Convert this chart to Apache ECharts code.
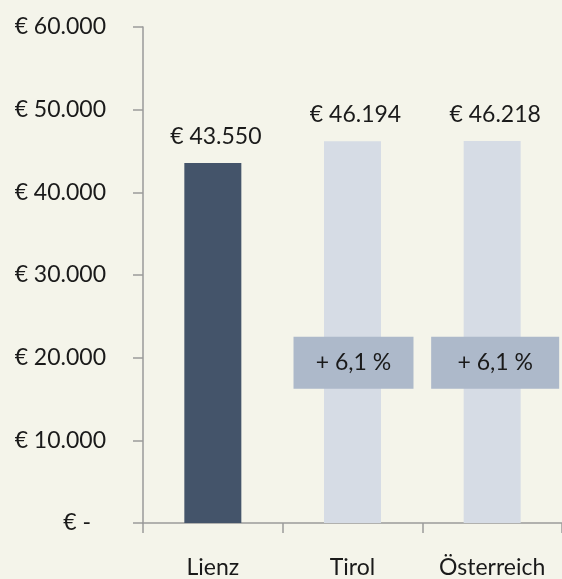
<!DOCTYPE html>
<html>
<head>
<meta charset="utf-8">
<script src="https://cdn.jsdelivr.net/npm/echarts@6/dist/echarts.min.js"></script>
<style>
  html, body { margin: 0; padding: 0; background: #f4f4ea; }
  #chart { width: 562px; height: 579px; }
</style>
</head>
<body>
<div id="chart"></div>
<script>
// Average income per region (EUR)
const regions = ['Lienz', 'Tirol', 'Österreich'];
const incomes = [43550, 46194, 46218];
const barColors = ['#44546a', '#d6dce5', '#d6dce5'];
// Comparison regions shown with their difference to Lienz
const comparedRegions = ['Tirol', 'Österreich'];
const boxLevel = 19400;

const FONT = 'Lato';
const FS = 23;
const AXIS_COLOR = '#9a9a9a';

function euro(v) {
  if (v === 0) return '€ -';
  return '€ ' + String(Math.round(v)).replace(/\B(?=(\d{3})+(?!\d))/g, '.');
}
function diffLabel(name) {
  const v = incomes[regions.indexOf(name)];
  const pct = (v / incomes[0] - 1) * 100;
  return '+ ' + pct.toFixed(1).replace('.', ',') + ' %';
}

const chart = echarts.init(document.getElementById('chart'), null, { renderer: 'canvas' });
chart.setOption({
  backgroundColor: '#f4f4ea',
  animation: false,
  textStyle: { fontFamily: FONT },
  grid: { left: 143, right: -1, top: 27, bottom: 56, containLabel: false },
  xAxis: {
    type: 'category',
    data: regions,
    axisLine: { lineStyle: { color: AXIS_COLOR, width: 1.5 } },
    axisTick: { show: true, length: 10, lineStyle: { color: AXIS_COLOR, width: 1.5 } },
    axisLabel: { color: '#1a1a1a', fontSize: FS, fontFamily: FONT, margin: 33 }
  },
  yAxis: {
    type: 'value',
    min: 0, max: 60000, interval: 10000,
    splitLine: { show: false },
    axisLine: { show: true, lineStyle: { color: AXIS_COLOR, width: 1.5 } },
    axisTick: { show: true, length: 10, lineStyle: { color: AXIS_COLOR, width: 1.5 } },
    axisLabel: {
      color: '#1a1a1a', fontSize: FS, fontFamily: FONT, margin: 37,
      // accounting style: the dash for zero sits left of the digit column
      formatter: v => v === 0 ? '{zero|' + euro(v) + '}' : euro(v),
      rich: { zero: { fontSize: FS, fontFamily: FONT, color: '#1a1a1a', padding: [0, 15, 0, 0] } }
    }
  },
  series: [
    {
      type: 'bar',
      barWidth: 57,
      data: incomes.map((v, i) => ({ value: v, itemStyle: { color: barColors[i] } })),
      label: {
        show: true, position: 'top', distance: 15,
        color: '#1a1a1a', fontSize: FS, fontFamily: FONT,
        offset: [3, 0],
        formatter: p => euro(p.value)
      },
      z: 2
    },
    {
      type: 'scatter',
      symbol: 'rect',
      data: comparedRegions.map((name, i) => ({
        value: [name, boxLevel],
        symbolSize: i === 0 ? [120, 52] : [128, 52],
        symbolOffset: i === 0 ? [1, 0] : [3, 0]
      })),
      itemStyle: { color: '#adb9ca', opacity: 1 },
      label: {
        show: true, position: 'inside',
        color: '#1a1a1a', fontSize: FS, fontFamily: FONT,
        formatter: p => diffLabel(p.value[0])
      },
      z: 3
    }
  ]
});
</script>
</body>
</html>
